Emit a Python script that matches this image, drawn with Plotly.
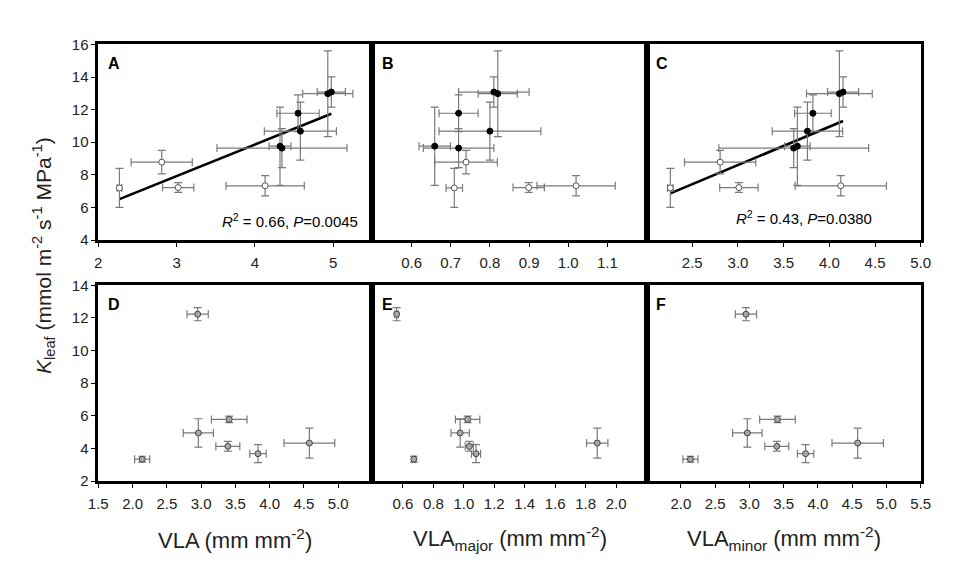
import numpy as np
import plotly.graph_objects as go
from plotly.subplots import make_subplots

# --- top row (panels A-C): 10 species, open = first 4, filled = last 6
kleaf_top = [7.20, 8.78, 7.22, 7.33, 9.76, 9.64, 11.78, 10.68, 12.98, 13.08]
kleaf_top_err = [1.2, 0.72, 0.3, 0.62, 2.4, 1.2, 1.13, 1.78, 2.63, 0.93]
vla_top = [2.27, 2.81, 3.02, 4.13, 4.32, 4.345, 4.55, 4.58, 4.93, 4.975]
vla_top_err = [0.03, 0.39, 0.2, 0.5, 0.14, 0.83, 0.27, 0.46, 0.32, 0.18]
vla_major_top = [0.709, 0.739, 0.899, 1.02, 0.659, 0.72, 0.72, 0.80, 0.82, 0.81]
vla_major_top_err = [0.021, 0.08, 0.04, 0.1, 0.04, 0.09, 0.05, 0.13, 0.05, 0.09]
vla_minor_top = [2.26, 2.805, 3.01, 4.125, 3.65, 3.61, 3.82, 3.76, 4.11, 4.15]
vla_minor_top_err = [0.03, 0.39, 0.21, 0.5, 0.14, 0.82, 0.2, 0.385, 0.36, 0.17]
filled_top = [False] * 4 + [True] * 6

# --- bottom row (panels D-F): 7 species
kleaf_bot = [12.23, 4.95, 5.78, 4.13, 3.68, 4.33, 3.34]
kleaf_bot_err = [0.4, 0.87, 0.2, 0.3, 0.55, 0.92, 0.18]
vla_bot = [2.95, 2.96, 3.41, 3.39, 3.83, 4.58, 2.14]
vla_bot_err = [0.155, 0.22, 0.26, 0.175, 0.12, 0.37, 0.11]
vla_major_bot = [0.559, 0.976, 1.025, 1.036, 1.08, 1.876, 0.672]
vla_major_bot_err = [0.012, 0.06, 0.08, 0.027, 0.03, 0.07, 0.01]
vla_minor_bot = [2.95, 2.97, 3.41, 3.40, 3.82, 4.58, 2.14]
vla_minor_bot_err = [0.155, 0.215, 0.26, 0.175, 0.12, 0.375, 0.11]

panel_letters = ['A', 'B', 'C', 'D', 'E', 'F']
stats_text = {1: '<i>R</i><sup>2</sup> = 0.66, <i>P</i>=0.0045',
              3: '<i>R</i><sup>2</sup> = 0.43, <i>P</i>=0.0380'}

W, H = 957, 563
FONT = 'Liberation Sans, Arial, sans-serif'
ERR = '#7a7a7a'

fig = make_subplots(rows=2, cols=3, horizontal_spacing=0, vertical_spacing=0.05)


def err(arr):
    return dict(type='data', array=arr, visible=True, color=ERR, thickness=1.2, width=4)


def add_top(x, xe, col, fit):
    xo = [v for v, f in zip(x, filled_top) if not f]
    xf = [v for v, f in zip(x, filled_top) if f]
    xeo = [v for v, f in zip(xe, filled_top) if not f]
    xef = [v for v, f in zip(xe, filled_top) if f]
    yo = [v for v, f in zip(kleaf_top, filled_top) if not f]
    yf = [v for v, f in zip(kleaf_top, filled_top) if f]
    yeo = [v for v, f in zip(kleaf_top_err, filled_top) if not f]
    yef = [v for v, f in zip(kleaf_top_err, filled_top) if f]
    if fit:
        # least-squares line, drawn over the data range
        slope, icpt = np.polyfit(x, kleaf_top, 1)
        xl = np.array([min(x), max(x)])
        fig.add_trace(go.Scatter(x=xl, y=slope * xl + icpt, mode='lines',
                                 line=dict(color='black', width=2.6),
                                 showlegend=False, hoverinfo='skip'), row=1, col=col)
    fig.add_trace(go.Scatter(x=xo, y=yo, mode='markers', error_x=err(xeo), error_y=err(yeo),
                             marker=dict(size=6, color='white', line=dict(color='#555555', width=1)),
                             showlegend=False), row=1, col=col)
    fig.add_trace(go.Scatter(x=xf, y=yf, mode='markers', error_x=err(xef), error_y=err(yef),
                             marker=dict(size=6, color='black', line=dict(color='black', width=1)),
                             showlegend=False), row=1, col=col)


def add_bot(x, xe, col):
    fig.add_trace(go.Scatter(x=x, y=kleaf_bot, mode='markers', error_x=err(xe), error_y=err(kleaf_bot_err),
                             marker=dict(size=6, color='#a8a8a8', line=dict(color='#444444', width=1)),
                             showlegend=False), row=2, col=col)


add_top(vla_top, vla_top_err, 1, True)
add_top(vla_major_top, vla_major_top_err, 2, False)
add_top(vla_minor_top, vla_minor_top_err, 3, True)
add_bot(vla_bot, vla_bot_err, 1)
add_bot(vla_major_bot, vla_major_bot_err, 2)
add_bot(vla_minor_bot, vla_minor_bot_err, 3)

# panel geometry (pixels -> paper)
xdom = [(82 / W, 362 / W), (362 / W, 642 / W), (642 / W, 922 / W)]
ydom = {1: (1 - 230 / H, 1 - 28.3 / H), 2: (1 - 478.5 / H, 1 - 276.7 / H)}

x_ranges = {1: [2, 5.5], 2: [0.5, 1.2], 3: [2.0, 5.0],
            4: [1.5, 5.5], 5: [0.4, 2.2], 6: [1.5, 5.5]}
x_ticks = {1: [2, 3, 4, 5],
           2: [0.6, 0.7, 0.8, 0.9, 1.0, 1.1],
           3: [2.5, 3.0, 3.5, 4.0, 4.5, 5.0],
           4: [1.5, 2.0, 2.5, 3.0, 3.5, 4.0, 4.5, 5.0],
           5: [0.6, 0.8, 1.0, 1.2, 1.4, 1.6, 1.8, 2.0],
           6: [2.0, 2.5, 3.0, 3.5, 4.0, 4.5, 5.0, 5.5]}
x_fmt = {1: '{:.0f}', 2: '{:.1f}', 3: '{:.1f}', 4: '{:.1f}', 5: '{:.1f}', 6: '{:.1f}'}

axis_style = dict(showline=True, mirror=True, linecolor='black', linewidth=2.6,
                  showgrid=False, zeroline=False, ticks='outside', ticklen=4,
                  tickwidth=1, tickcolor='black',
                  tickfont=dict(family=FONT, size=15, color='#222222'))

for i in range(1, 7):
    row = 1 if i <= 3 else 2
    col = (i - 1) % 3
    sfx = '' if i == 1 else str(i)
    fig.layout['xaxis' + sfx].update(
        domain=list(xdom[col]), range=x_ranges[i], tickvals=x_ticks[i],
        ticktext=[x_fmt[i].format(v) for v in x_ticks[i]], ticklabelstandoff=3,
        **axis_style)
    yr = [4, 16] if row == 1 else [2, 14]
    fig.layout['yaxis' + sfx].update(
        domain=list(ydom[row]), range=yr, dtick=2, tick0=0,
        showticklabels=(col == 0), **axis_style)
    if col != 0:
        fig.layout['yaxis' + sfx].update(ticks='')
    # panel letter
    fig.add_annotation(text='<b>%s</b>' % panel_letters[i - 1],
                       xref='x%s domain' % sfx, yref='y%s domain' % sfx,
                       x=0.027, y=0.955, xanchor='left', yanchor='top', showarrow=False,
                       font=dict(family=FONT, size=16, color='black'))

# stats text
fig.add_annotation(text=stats_text[1], xref='paper', yref='paper', x=349 / W, y=1 - 210 / H,
                   xanchor='right', yanchor='middle', showarrow=False,
                   font=dict(family=FONT, size=15, color='black'))
fig.add_annotation(text=stats_text[3], xref='paper', yref='paper', x=874 / W, y=1 - 207 / H,
                   xanchor='right', yanchor='middle', showarrow=False,
                   font=dict(family=FONT, size=15, color='black'))

# axis titles
x_titles = ['VLA (mm mm<sup>-2</sup>)',
            'VLA<sub>major</sub> (mm mm<sup>-2</sup>)',
            'VLA<sub>minor</sub> (mm mm<sup>-2</sup>)']
for col, t in enumerate(x_titles):
    fig.add_annotation(text=t, xref='paper', yref='paper',
                       x=(xdom[col][0] + xdom[col][1]) / 2, y=1 - 538 / H,
                       xanchor='center', yanchor='middle', showarrow=False,
                       font=dict(family=FONT, size=22, color='#222222'))
fig.add_annotation(text='<i>K</i><sub>leaf</sub> (mmol m<sup>-2</sup> s<sup>-1</sup> MPa<sup>-1</sup>)',
                   xref='paper', yref='paper', x=26 / W, y=1 - 246 / H, textangle=-90,
                   xanchor='center', yanchor='middle', showarrow=False,
                   font=dict(family=FONT, size=21, color='#222222'))

fig.update_layout(width=W, height=H, margin=dict(l=0, r=0, t=0, b=0),
                  plot_bgcolor='white', paper_bgcolor='white', showlegend=False)

fig.write_html("out.html")
